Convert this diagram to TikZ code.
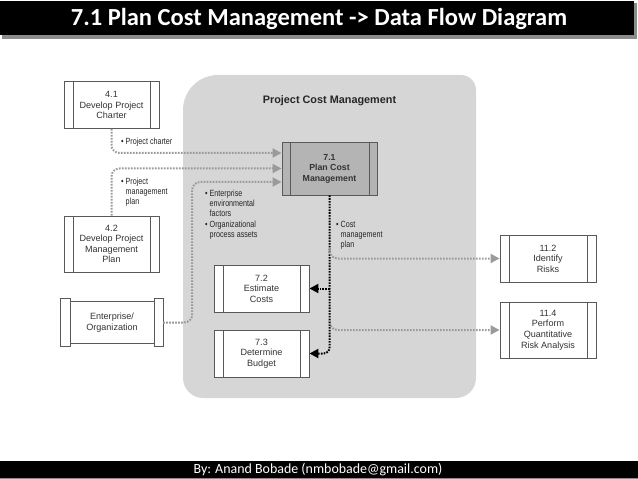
\documentclass[tikz,border=0pt]{standalone}
\usepackage{fontspec}
\setmainfont{Liberation Sans}
\newfontfamily\narrowfont[FakeStretch=0.8]{Liberation Sans}
\newfontfamily\calfont{Carlito}
\usetikzlibrary{arrows.meta, positioning, calc}

\definecolor{pmgray}{HTML}{D6D6D6}
\definecolor{pmdark}{HTML}{B4B4B4}
\definecolor{flowgray}{HTML}{9A9A9A}

\tikzset{
    proc/.style={draw=black!65, line width=0.9bp, fill=white, minimum width=95bp,
        minimum height=47bp, align=center, text=black!80, inner sep=1bp,
        font=\fontsize{9.1}{10.6}\selectfont,
        path picture={\draw[black!65, line width=0.9bp]
            ([xshift=9bp]path picture bounding box.north west) -- ([xshift=9bp]path picture bounding box.south west)
            ([xshift=-9bp]path picture bounding box.north east) -- ([xshift=-9bp]path picture bounding box.south east);}},
    note/.style={anchor=north west, align=left, inner sep=0pt, text=black!85,
        font=\narrowfont\fontsize{9}{10}\selectfont},
    grayflow/.style={draw=flowgray, line width=2bp, dash pattern=on 1.6bp off 1.4bp,
        rounded corners=8bp, -{Triangle[length=9bp, width=9bp, fill=flowgray]}},
    blackflow/.style={draw=black, line width=2bp, dash pattern=on 1.6bp off 1.2bp,
        rounded corners=6bp, -{Triangle[length=9bp, width=9bp, fill=black]}}
}

\newcommand{\bitem}[1]{\begin{tabular}[t]{@{}l@{\hspace{2bp}}l@{}}\textbullet & \begin{tabular}[t]{@{}l@{}}#1\end{tabular}\end{tabular}}

\begin{document}
\begin{tikzpicture}[x=1bp, y=-1bp, node distance=65bp, on grid]
   \useasboundingbox (0,0) rectangle (638,479);

   % Title and footer bars
   \fill[black!45] (2,3) rectangle (637,39);
   \fill[black] (0,1) rectangle (634,35);
   \node[text=white, font=\calfont\bfseries\fontsize{24.6}{27}\selectfont] (title) at (319,19) {7.1 Plan Cost Management -> Data Flow Diagram};
   \fill[black] (0,461) rectangle (638,478);
   \draw[black!45, line width=1bp] (0,478.5) -- (638,478.5);
   \node[text=white, font=\calfont\fontsize{14}{16}\selectfont] (footer) at (318,469.5) {By: Anand Bobade (nmbobade@gmail.com)};

   % Knowledge area background
   \fill[pmgray] (183,240) [rounded corners=35bp] -- (183,75) -- (330,75) [rounded corners=15bp] -- (476,75) -- (476,240)
       [rounded corners=20bp] -- (476,398) -- (183,398) -- cycle;
   \node[font=\bfseries\fontsize{10.9}{12}\selectfont, text=black!85] (pcm) at (329.5,101) {Project Cost Management};

   % Processes
   \node[proc] (d41) at (111.5,105) {4.1\\Develop Project\\Charter};
   \node[proc, minimum height=56bp] (d42) at (111.5,244) {4.2\\Develop Project\\Management\\Plan};
   \node[proc, fill=pmdark, minimum height=53bp, font=\bfseries\fontsize{8.8}{10.5}\selectfont,
       path picture={\fill[pmdark] (path picture bounding box.north west) rectangle (path picture bounding box.south east);
       \draw[black!65, line width=0.9bp]
            ([xshift=8bp]path picture bounding box.north west) -- ([xshift=8bp]path picture bounding box.south west)
            ([xshift=-8bp]path picture bounding box.north east) -- ([xshift=-8bp]path picture bounding box.south east);}]
       (p71) at (329.5,168.5) {7.1\\Plan Cost\\Management};
   \node[proc] (p72) at (261.5,288.5) {7.2\\Estimate\\Costs};
   \node[proc] (p73) [below=of p72] {7.3\\Determine\\Budget};
   \node[proc, minimum width=96bp] (r112) at (548,258.5) {11.2\\Identify\\Risks};
   \node[proc, minimum width=96bp, minimum height=56bp] (r114) at (548,330) {11.4\\Perform\\Quantitative\\Risk Analysis};

   % Enterprise / organization (scroll shape)
   \node[minimum width=102bp, minimum height=47bp, align=center, text=black!80,
       font=\fontsize{9.1}{10.6}\selectfont] (ent) at (112,322.5) {Enterprise/\\Organization};
   \draw[black!65, line width=0.9bp] (ent.north west) rectangle ([xshift=10bp]ent.south west);
   \draw[black!65, line width=0.9bp] ([xshift=-9bp]ent.north east) rectangle (ent.south east);
   \draw[black!65, line width=0.9bp] ([xshift=10bp, yshift=-3bp]ent.north west) -- ([xshift=-9bp, yshift=-3bp]ent.north east)
       ([xshift=10bp, yshift=3bp]ent.south west) -- ([xshift=-9bp, yshift=3bp]ent.south east);

   % Inputs
   \draw[grayflow] (d41.south) |- ([yshift=15.5bp]p71.west);
   \draw[grayflow] (d42.north) |- (p71.west);
   \draw[grayflow] (ent.east) -- ++(29,0) |- ([yshift=-13.5bp]p71.west);

   % Outputs
   \draw[blackflow] (p71.south) |- (p73.east);
   \draw[blackflow] (p71.south |- p72.east) -- (p72.east);
   \draw[grayflow] ($(p71.south |- r112.west)+(0,-10)$) |- (r112.west);
   \draw[grayflow] ($(p71.south |- r114.west)+(0,-10)$) |- (r114.west);

   % Labels
   \node[note] (lch) at (121,137) {\bitem{Project charter}};
   \node[note] (lpm) at (121,177) {\bitem{Project\\management\\plan}};
   \node[note] (lef) at (205,189) {\bitem{Enterprise\\environmental\\factors}};
   \node[note] (lop) at (205,220) {\bitem{Organizational\\process assets}};
   \node[note] (lcm) at (336,220) {\bitem{Cost\\management\\plan}};
\end{tikzpicture}
\end{document}
